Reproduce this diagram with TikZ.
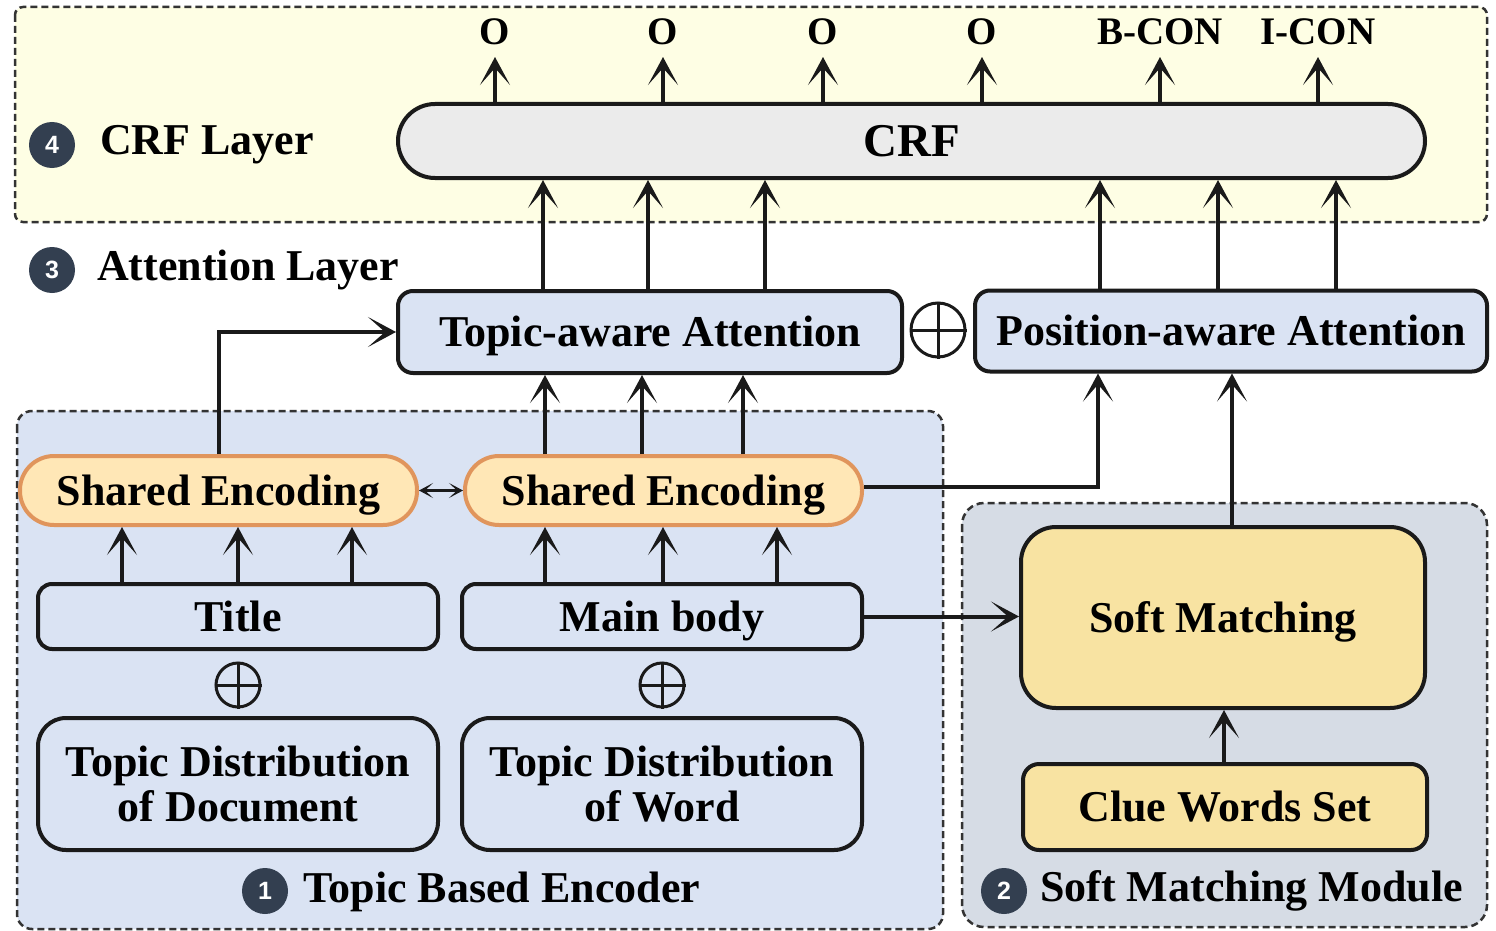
\documentclass[tikz,border=0pt]{standalone}
\usepackage{fontspec}
\setmainfont{Liberation Serif}
\newfontfamily\badgefont{Liberation Sans}
\usetikzlibrary{arrows.meta}
\definecolor{topbg}{HTML}{FEFEE4}
\definecolor{encbg}{HTML}{DAE3F3}
\definecolor{smbg}{HTML}{D6DCE5}
\definecolor{boxblue}{HTML}{DAE3F3}
\definecolor{sefill}{HTML}{FFE7B6}
\definecolor{seline}{HTML}{E0955C}
\definecolor{gold}{HTML}{F8E3A2}
\definecolor{crffill}{HTML}{EBEBEB}
\definecolor{badgecol}{HTML}{333F50}
\definecolor{lineblk}{HTML}{1A1A1A}
\definecolor{dashcol}{HTML}{333333}
\begin{document}
\begin{tikzpicture}[x=1pt,y=-1pt,
  font=\fontsize{44}{45}\selectfont\bfseries,
  region/.style={draw=dashcol, line width=2.5pt, dash pattern=on 7pt off 4pt},
  box/.style={draw=lineblk, line width=4pt, fill=boxblue, rounded corners=15pt, inner sep=0pt, align=center},
  capc/.style={text height=29pt, text depth=0pt},
  sebox/.style={draw=seline, line width=4pt, fill=sefill, rounded corners=34pt, inner sep=0pt, minimum width=397pt, minimum height=69pt, capc},
  goldbox/.style={draw=lineblk, line width=4pt, fill=gold, inner sep=0pt, capc},
  lbl/.style={inner sep=0pt, text=black},
  outlbl/.style={inner sep=0pt, anchor=base, font=\fontsize{39}{40}\selectfont\bfseries},
  badge/.style={circle, fill=badgecol, minimum size=46pt, inner sep=0pt, text=white, font=\badgefont\bfseries\fontsize{25}{25}\selectfont},
  oplus/.style={circle, draw=lineblk, line width=3pt, inner sep=0pt},
  arr/.style={line width=4pt, draw=lineblk, -{Stealth[length=28pt,width=30pt,inset=17pt]}},
  darr/.style={line width=2.5pt, draw=lineblk, {Stealth[length=14pt,width=15pt,inset=8pt]}-{Stealth[length=14pt,width=15pt,inset=8pt]}}
]
\useasboundingbox (0,0) rectangle (1496,931);
\fill[white] (0,0) rectangle (1496,931);

% regions
\draw[region, fill=topbg, rounded corners=8pt] (15,7) rectangle (1487,222);
\draw[region, fill=encbg, rounded corners=15pt] (17,411) rectangle (943,929);
\draw[region, fill=smbg, rounded corners=22pt] (962,503) rectangle (1487,927);

% region labels
\node[badge] (b4) at (52,145) {4};
\node[lbl, anchor=base west] (l4) at (100,154) {CRF Layer};
\node[badge] (b3) at (52,270) {3};
\node[lbl, anchor=base west] (l3) at (97,280) {Attention Layer};
\node[badge] (b1) at (265,891) {1};
\node[lbl, anchor=base west] (l1) at (303,902) {Topic Based Encoder};
\node[badge] (b2) at (1004,891) {2};
\node[lbl, anchor=base west] (l2) at (1040,901) {Soft Matching Module};

% CRF
\node[draw=lineblk, line width=4pt, fill=crffill, rounded corners=37pt, inner sep=0pt,
  minimum width=1027pt, minimum height=74pt, text height=31pt, text depth=0pt,
  font=\fontsize{47}{48}\selectfont\bfseries] (crf) at (911.5,141) {CRF};

% outputs
\node[outlbl] (o1) at (495,45) {O};
\node[outlbl] (o2) at (663,45) {O};
\node[outlbl] (o3) at (823,45) {O};
\node[outlbl] (o4) at (982,45) {O};
\node[outlbl] (o5) at (1160,45) {B-CON};
\node[outlbl] (o6) at (1318,45) {I-CON};
\foreach \o in {o1,o2,o3,o4,o5,o6}
  \draw[arr] (crf.north -| \o.base) -- ([yshift=-12pt]\o.base);

% attention
\node[box, capc, minimum width=504pt, minimum height=82pt] (ta) at (650,332) {Topic-aware Attention};
\node[box, capc, minimum width=512pt, minimum height=81pt] (pa) at (1231,331) {Position-aware Attention};
\node[oplus, minimum size=54pt] (p0) at (938,330) {};
\draw[line width=3pt, draw=lineblk] (p0.north) -- (p0.south) (p0.west) -- (p0.east);

\foreach \x in {543,648,765}
  \draw[arr] (ta.north -| \x,0) -- (crf.south -| \x,0);
\foreach \x in {1100,1218,1336}
  \draw[arr] (pa.north -| \x,0) -- (crf.south -| \x,0);

% shared encodings
\node[sebox] (se1) at (218.5,490.5) {Shared Encoding};
\node[sebox] (se2) at (663.5,490.5) {Shared Encoding};
\draw[darr] (se1.east) -- (se2.west);
\draw[arr] (se1.north) |- (ta.west);
\foreach \x in {545,642,743}
  \draw[arr] (se2.north -| \x,0) -- (ta.south -| \x,0);
\coordinate (pin) at (1098,0);
\draw[arr] ([yshift=4pt]se2.east) -| (pa.south -| pin);

% title / main body
\node[box, capc, rounded corners=14pt, minimum width=400pt, minimum height=65pt] (title) at (238,616.5) {Title};
\node[box, capc, rounded corners=14pt, minimum width=400pt, minimum height=65pt] (main) at (662,616.5) {Main body};
\foreach \x in {122,238,352}
  \draw[arr] (title.north -| \x,0) -- (se1.south -| \x,0);
\foreach \x in {545,663,777}
  \draw[arr] (main.north -| \x,0) -- (se2.south -| \x,0);

\node[oplus, minimum size=44pt] (p1) at (238,685) {};
\draw[line width=3pt, draw=lineblk] (p1.north) -- (p1.south) (p1.west) -- (p1.east);
\node[oplus, minimum size=44pt] (p2) at (662,685) {};
\draw[line width=3pt, draw=lineblk] (p2.north) -- (p2.south) (p2.west) -- (p2.east);

% topic distributions
\node[box, rounded corners=28pt, minimum width=400pt, minimum height=132pt] (tdd) at (238,784) {Topic Distribution\\of Document};
\node[box, rounded corners=28pt, minimum width=400pt, minimum height=132pt] (tdw) at (662,784) {Topic Distribution\\of Word};

% soft matching
\node[goldbox, rounded corners=35pt, minimum width=404pt, minimum height=181pt] (sm) at (1223,617.5) {Soft Matching};
\node[goldbox, rounded corners=16pt, minimum width=404pt, minimum height=86pt] (cws) at (1225,807) {Clue Words Set};
\draw[arr] (main.east) -- (sm.west |- main.east);
\draw[arr] (sm.north -| 1232,0) -- (pa.south -| 1232,0);
\draw[arr] (cws.north -| 1224,0) -- (sm.south -| 1224,0);
\end{tikzpicture}
\end{document}
